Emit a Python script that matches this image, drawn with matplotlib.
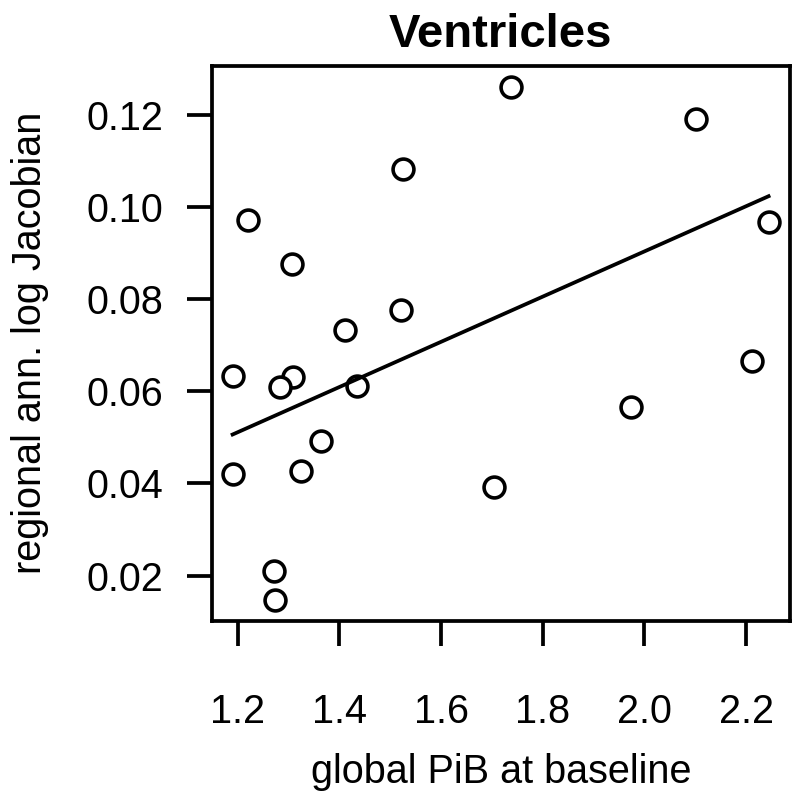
import numpy as np
import matplotlib.pyplot as plt

plt.rcParams['font.family'] = ['Liberation Sans', 'DejaVu Sans']

# global PiB at baseline vs regional annualised log Jacobian (ventricles)
pib = [1.525, 1.220, 1.307, 1.521, 1.412, 1.738, 2.102, 2.244, 1.191, 1.309,
       1.284, 1.434, 1.364, 1.191, 1.324, 1.704, 1.271, 1.274, 1.973, 2.212]
jac = [0.1082, 0.0972, 0.0875, 0.0777, 0.0732, 0.1261, 0.1191, 0.0967, 0.0634, 0.0631,
       0.0608, 0.0611, 0.0492, 0.0421, 0.0426, 0.0393, 0.0209, 0.0147, 0.0565, 0.0666]
# fitted line at its two ends
fit_x = [1.190, 2.244]
fit_y = [0.0506, 0.1023]
xticks = [1.2, 1.4, 1.6, 1.8, 2.0, 2.2]
yticks = [0.02, 0.04, 0.06, 0.08, 0.10, 0.12]

x = np.array(pib)
y = np.array(jac)

fig = plt.figure(figsize=(8, 7.94), dpi=100)
ax = fig.add_axes([0.2646, 0.2185, 0.7229, 0.6984])

ax.plot(x, y, 'o', ms=15, mfc='white', mec='black', mew=2.6, ls='none')
ax.plot(fit_x, fit_y, color='black', lw=2.7)

# R-style 4% padding
xr = x.max() - x.min()
yr = y.max() - y.min()
ax.set_xlim(x.min() - 0.04 * xr, x.max() + 0.04 * xr)
ax.set_ylim(y.min() - 0.04 * yr, y.max() + 0.04 * yr)

ax.set_xticks(xticks)
ax.set_xticklabels([f"{v:.1f}" for v in xticks])
ax.set_yticks(yticks)
ax.set_yticklabels([f"{v:.2f}" for v in yticks])

for s in ax.spines.values():
    s.set_linewidth(2.7)
ax.tick_params(axis='both', direction='out', length=18, width=2.7, labelsize=28.5)
ax.tick_params(axis='x', pad=34)
ax.tick_params(axis='y', pad=17)

ax.set_xlabel('global PiB at baseline', fontsize=28.5, labelpad=16)
ax.set_ylabel('regional ann. log Jacobian', fontsize=28.5, labelpad=27)
ax.set_title('Ventricles', fontsize=34, fontweight='bold', pad=14)

fig.savefig('out.png', dpi=100)
